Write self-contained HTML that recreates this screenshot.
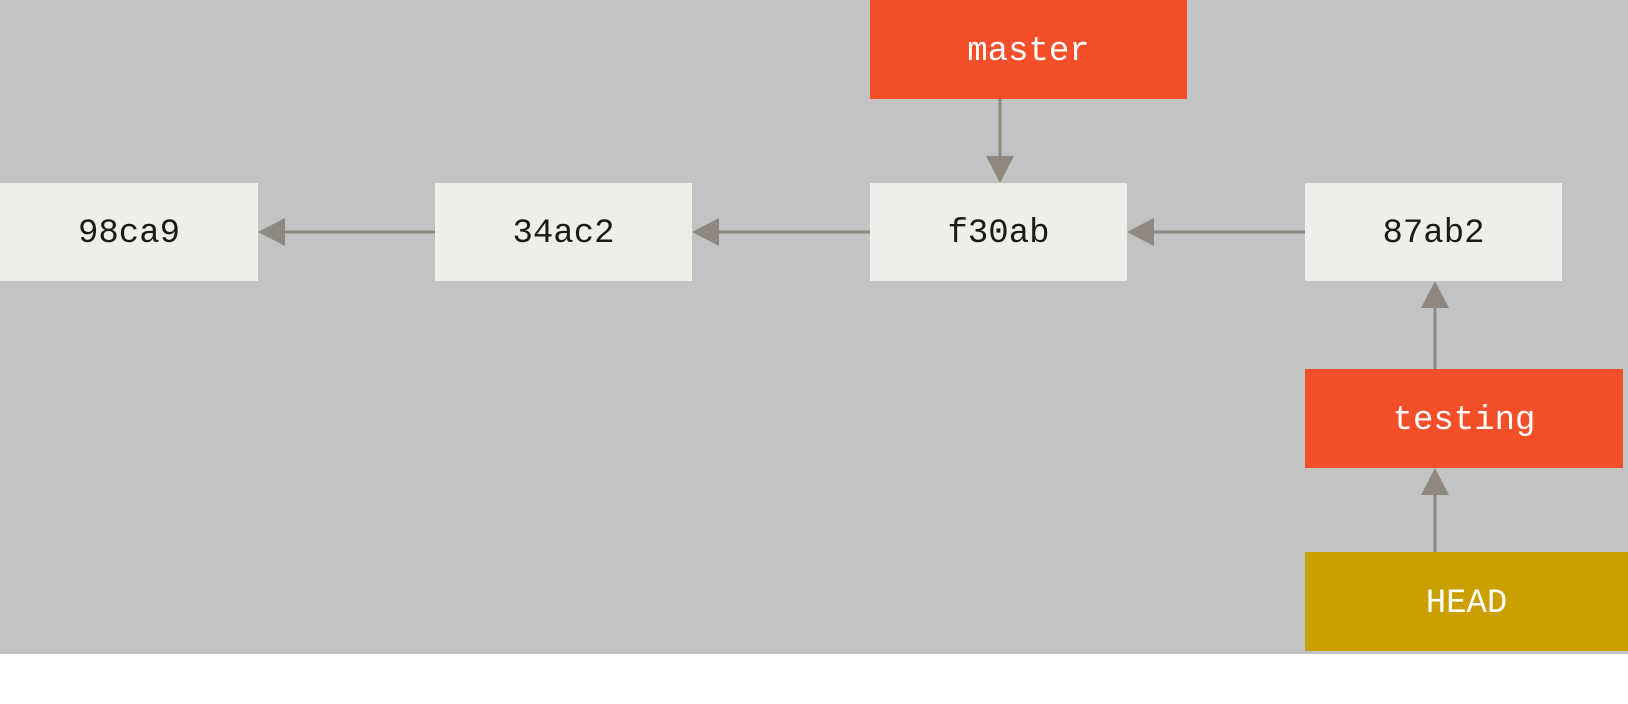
<!DOCTYPE html>
<html><head><style>
html,body{margin:0;padding:0;width:1628px;height:704px;background:#fff;overflow:hidden}
.bg{position:absolute;left:0;top:0;width:1628px;height:654px;background:#c3c3c3}
.b{position:absolute;display:flex;align-items:center;justify-content:center;font-family:"Liberation Mono",monospace;font-size:34px;box-sizing:border-box;padding-top:4px}
.c{background:#efeee8;color:#1a1a1a;top:183px;height:98px;width:257px}
.r{background:#f54f29;color:#fff}
.h{background:#cc9f00;color:#fff}
</style></head><body>
<div class="bg"></div>
<svg width="1628" height="704" style="position:absolute;left:0;top:0">
<g stroke="#8e8881" stroke-width="3">
<line x1="280" y1="232" x2="435" y2="232"/>
<line x1="718" y1="232" x2="870" y2="232"/>
<line x1="1153" y1="232" x2="1305" y2="232"/>
<line x1="1000" y1="98" x2="1000" y2="158"/>
<line x1="1435" y1="305" x2="1435" y2="369"/>
<line x1="1435" y1="493" x2="1435" y2="552"/>
</g>
<g fill="#8e8881">
<polygon points="258,232 285,218 285,246"/>
<polygon points="692,232 719,218 719,246"/>
<polygon points="1127,232 1154,218 1154,246"/>
<polygon points="1000,183 986,156 1014,156"/>
<polygon points="1435,281 1421,308 1449,308"/>
<polygon points="1435,468 1421,495 1449,495"/>
</g>
</svg>
<div class="b c" style="left:0;width:258px">98ca9</div>
<div class="b c" style="left:435px">34ac2</div>
<div class="b c" style="left:870px">f30ab</div>
<div class="b c" style="left:1305px">87ab2</div>
<div class="b r" style="left:870px;top:0;width:317px;height:99px">master</div>
<div class="b r" style="left:1305px;top:369px;width:318px;height:99px">testing</div>
<div class="b h" style="left:1305px;top:552px;width:323px;height:99px">HEAD</div>
</body></html>
